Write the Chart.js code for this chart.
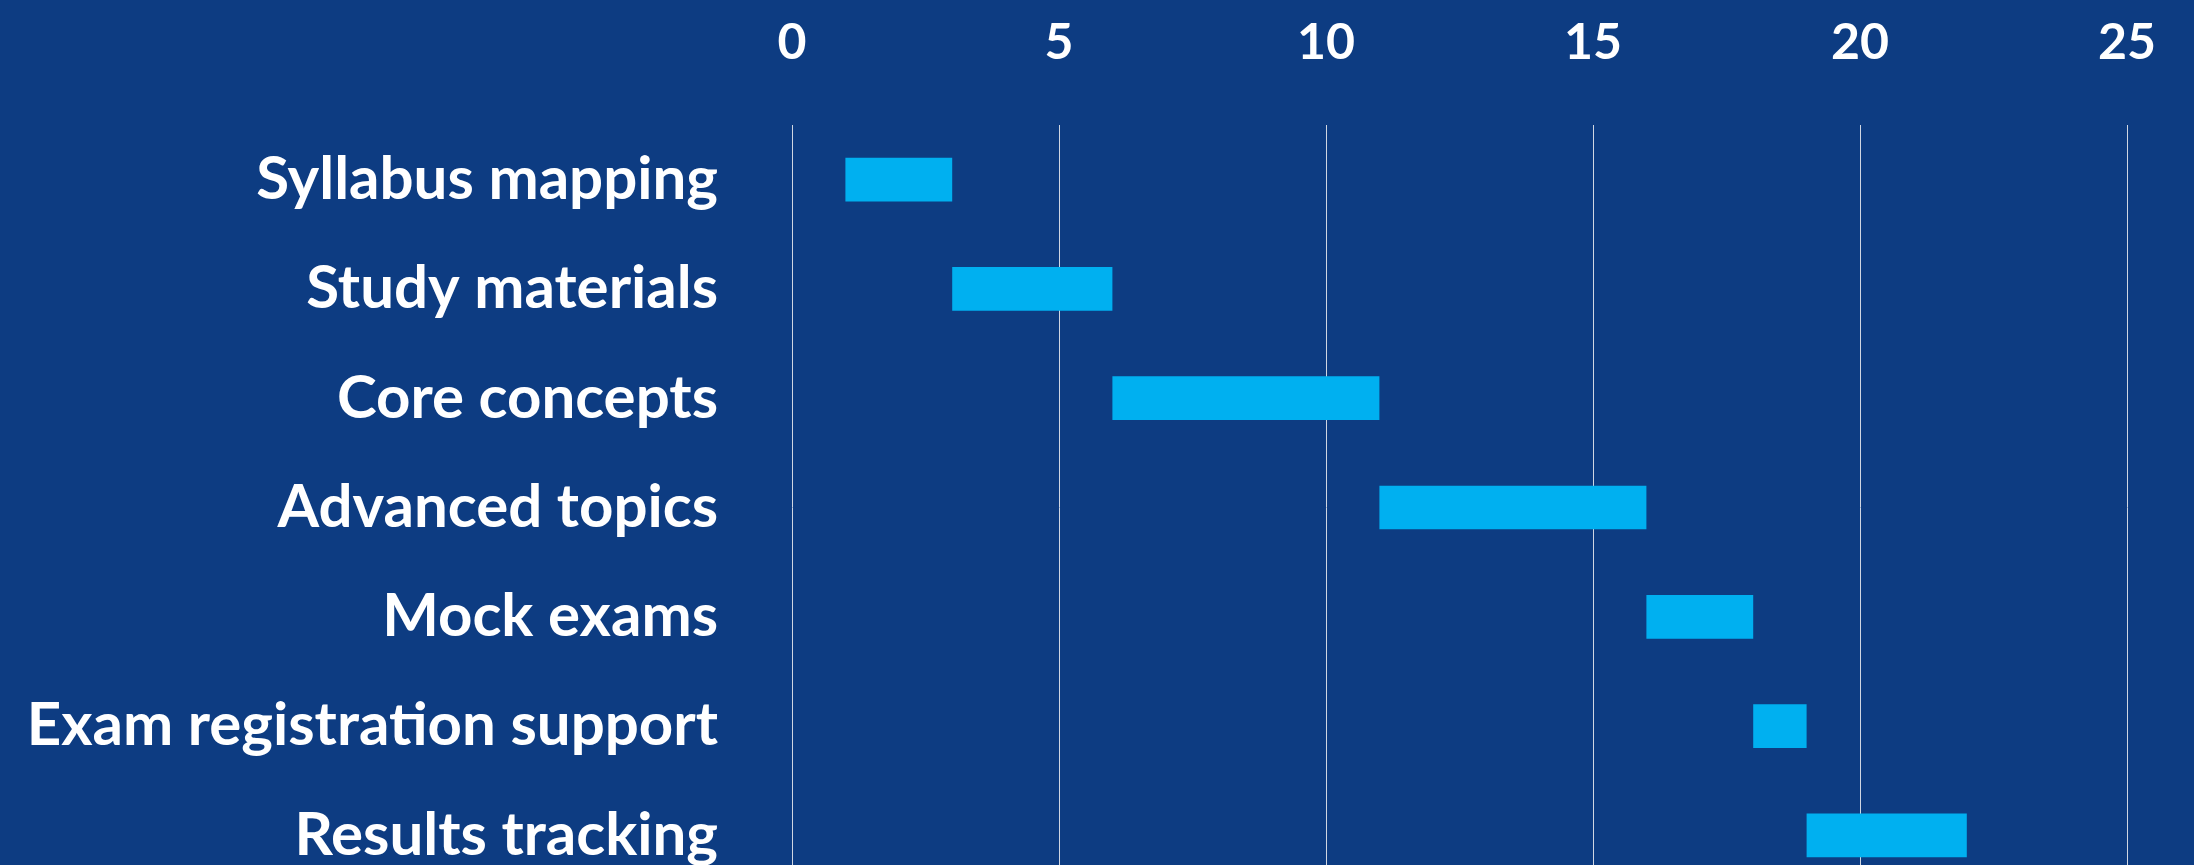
<!DOCTYPE html>
<html>
<head>
<meta charset="utf-8">
<script src="https://cdn.jsdelivr.net/npm/chart.js@4/dist/chart.umd.min.js"></script>
<style>
  html, body { margin: 0; padding: 0; background: #0d3c82; overflow: hidden; }
  canvas { display: block; }
</style>
</head>
<body>
<canvas id="gantt" width="2194" height="890"></canvas>
<script>
const tasks = ['Syllabus mapping', 'Study materials', 'Core concepts', 'Advanced topics',
               'Mock exams', 'Exam registration support', 'Results tracking'];
const startWeek = [1, 3, 6, 11, 16, 18, 19];
const endWeek = [3, 6, 11, 16, 18, 19, 22];
const xTicks = [0, 5, 10, 15, 20, 25];

const spans = [];
for (let i = 0; i < tasks.length; i++)
    spans.push([startWeek[i], endWeek[i]]);

// tick padding also widens the plot margins, so clear those after fitting
function fixX(axis) {
    axis.height = 125;
    axis.paddingLeft = 0;
    axis.paddingRight = 0;
}
function fixY(axis) {
    axis.width = 792;
    axis.paddingTop = 0;
    axis.paddingBottom = 0;
}

const data = {
    labels: tasks,
    datasets: [{
        label: 'Timeline',
        data: spans,
        backgroundColor: '#00b0f0',
        borderWidth: 0,
        barPercentage: 0.4,
        categoryPercentage: 1
    }]
};

const config = {
    type: 'bar',
    data: data,
    options: {
        indexAxis: 'y',
        responsive: false,
        animation: false,
        layout: { padding: { left: 0, right: 67, top: 0, bottom: 0 } },
        plugins: {
            legend: { display: false },
            tooltip: { enabled: false }
        },
        scales: {
            x: {
                position: 'top',
                min: xTicks[0],
                max: xTicks[xTicks.length - 1],
                afterBuildTicks: (axis) => { axis.ticks = xTicks.map(v => ({ value: v })); },
                afterFit: fixX,
                grid: { color: '#d0d6e2', lineWidth: 1, drawTicks: false },
                border: { display: false },
                ticks: { color: '#ffffff', font: { family: 'Lato', size: 50, weight: 'bold' }, padding: 52 }
            },
            y: {
                afterFit: fixY,
                grid: { display: false },
                border: { display: false },
                ticks: { color: '#ffffff', font: { family: 'Lato', size: 60, weight: 'bold' }, padding: 66 }
            }
        }
    }
};

let ctx = document.getElementById('gantt').getContext('2d');
new Chart(ctx, config);
</script>
</body>
</html>
